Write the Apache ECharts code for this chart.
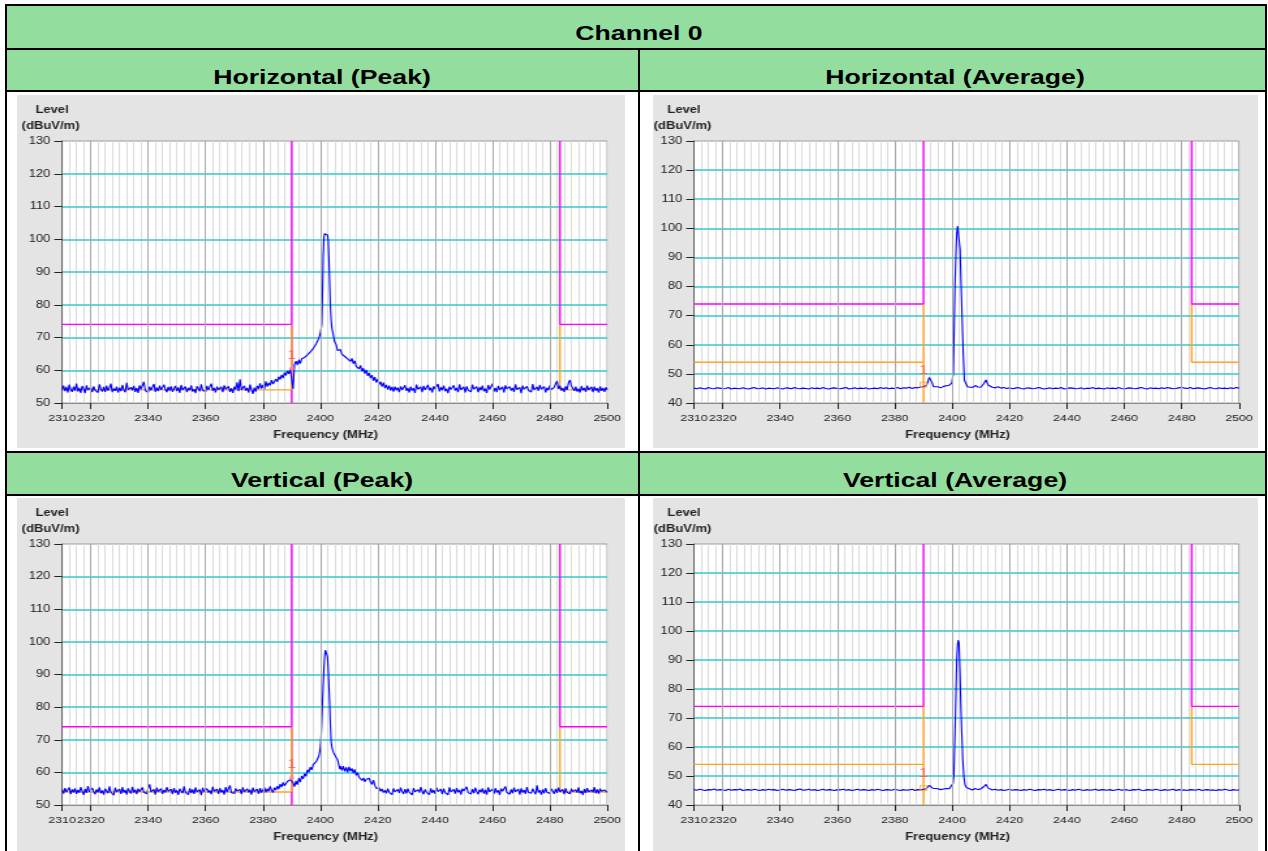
<!DOCTYPE html>
<html>
<head>
<meta charset="utf-8">
<script src="https://cdn.jsdelivr.net/npm/echarts@6/dist/echarts.min.js"></script>
<style>
  html, body { margin: 0; padding: 0; background: #fff; width: 1268px; height: 851px; overflow: hidden; }
  body { position: relative; font-family: 'Liberation Sans', Arial, sans-serif; }
  .g { position: absolute; background: #93dd9e; }
  .b { position: absolute; background: #000; }
  .t { position: absolute; font-weight: bold; font-size: 20.5px; line-height: 1; color: #000; white-space: nowrap;
       transform: translate(-50%, -50%) scaleX(1.3); }
  .chart { position: absolute; transform-origin: 0 0; }
</style>
</head>
<body>
<!-- table cells -->
<div class="g" style="left:7px;top:6px;width:1258px;height:42px"></div>
<div class="g" style="left:7px;top:50px;width:631px;height:40px"></div>
<div class="g" style="left:640px;top:50px;width:625px;height:40px"></div>
<div class="g" style="left:7px;top:453px;width:631px;height:41px"></div>
<div class="g" style="left:640px;top:453px;width:625px;height:41px"></div>
<!-- table rules -->
<div class="b" style="left:5px;top:4px;width:1262px;height:2px"></div>
<div class="b" style="left:5px;top:4px;width:2px;height:847px"></div>
<div class="b" style="left:1265px;top:4px;width:2px;height:847px"></div>
<div class="b" style="left:5px;top:48px;width:1262px;height:2px"></div>
<div class="b" style="left:5px;top:90px;width:1262px;height:2px"></div>
<div class="b" style="left:5px;top:451px;width:1262px;height:2px"></div>
<div class="b" style="left:5px;top:494px;width:1262px;height:2px"></div>
<div class="b" style="left:638px;top:50px;width:2px;height:801px"></div>
<!-- headings -->
<div class="t" style="left:639px;top:33px">Channel 0</div>
<div class="t" style="left:322px;top:77px">Horizontal (Peak)</div>
<div class="t" style="left:955px;top:77px">Horizontal (Average)</div>
<div class="t" style="left:322px;top:480px">Vertical (Peak)</div>
<div class="t" style="left:955px;top:480px">Vertical (Average)</div>

<script>
// ---- sweep data (dBuV/m): regular sweep steps plus a finer section around the carrier ----
const freqStart = 2310;
const peakSweepStep = 0.5;
const avgSweepStep = 1;
const freqMin = 2310, freqMax = 2500;
const xTickLabels = [2310, 2320, 2340, 2360, 2380, 2400, 2420, 2440, 2460, 2480, 2500];
const majorGridFreqs = [2320, 2340, 2360, 2380, 2400, 2420, 2440, 2460, 2480];

// limits
const peakLimit = 74;
const avgLimit = 54;
const bandEdgeLow = 2390;
const bandEdgeHigh = 2483.5;

// Horizontal, peak detector (0.5 MHz steps from 2310)
const hpLeft = [
  54.0, 55.3, 53.6, 54.9, 53.2, 55.6, 54.1, 53.4, 55.0, 53.8,
  55.9, 53.5, 54.6, 53.1, 55.2, 54.3, 53.0, 55.4, 54.0, 53.6,
  54.8, 53.3, 55.1, 53.9, 54.5, 53.2, 55.7, 54.2, 53.5, 54.9,
  53.4, 55.3, 53.8, 54.6, 55.9, 53.3, 54.4, 53.7, 55.0, 53.2,
  54.7, 53.6, 55.5, 54.0, 53.3, 56.2, 54.1, 53.5, 54.8, 53.9,
  55.2, 53.4, 54.6, 53.1, 55.4, 54.2, 53.7, 56.5, 53.8, 54.3,
  53.2, 55.0, 53.9, 54.5, 55.8, 53.4, 54.7, 53.6, 55.3, 54.0,
  53.5, 55.6, 54.1, 53.3, 54.9, 53.8, 55.1, 53.4, 54.4, 55.2,
  53.6, 54.8, 53.1, 55.5, 54.0, 53.7, 55.0, 53.3, 54.6, 53.9,
  55.4, 53.5, 54.2, 53.0, 55.1, 54.4, 53.6, 55.7, 53.9, 54.3,
  53.4, 55.2, 54.0, 53.5, 55.9, 53.8, 54.6, 53.2, 55.0, 54.1,
  53.6, 54.9, 53.3, 55.4, 54.2, 53.7, 55.1, 53.4, 54.5, 53.1,
  55.0, 54.1, 56.3, 53.6, 57.2, 54.0, 53.4, 55.3, 53.8, 54.6,
  53.2, 55.6, 54.0, 52.8, 54.7, 53.5, 55.2, 54.3, 56.0, 54.4,
  55.5, 54.2, 56.6, 55.0, 56.1, 55.4, 57.0, 55.8, 56.4, 57.3,
  56.5, 58.0, 57.2, 58.6, 57.6, 59.3, 58.4, 59.8, 58.9, 60.3
];
const hpPeak = [
  [2390, 60.6], [2390.5, 54.3], [2391, 61.8], [2391.5, 62.8], [2392, 61.6], [2392.5, 63.2],
  [2393, 62.0], [2393.5, 63.5], [2394, 63.0], [2394.5, 63.9], [2395, 63.6], [2395.5, 64.7],
  [2396, 64.4], [2396.5, 65.6], [2397, 65.5], [2397.5, 66.6], [2398, 66.8], [2398.5, 68.0],
  [2399, 68.5], [2399.5, 69.8], [2400, 71.3], [2400.25, 72.5], [2400.5, 74.0], [2400.75, 83.0],
  [2401, 95.0], [2401.25, 100.6], [2401.5, 101.7], [2401.75, 101.9], [2402, 101.6], [2402.25, 101.8],
  [2402.5, 101.3], [2402.75, 99.5], [2403, 94.0], [2403.25, 86.5], [2403.5, 79.5], [2403.75, 75.5],
  [2404, 73.0], [2404.5, 70.8], [2405, 68.6], [2405.5, 67.9], [2406, 66.0]
];
const hpRightStart = 2406.5;
const hpRight = [
  65.6, 66.3, 64.9, 65.4, 64.2, 64.8, 63.5, 64.1, 62.7, 63.6,
  62.0, 62.9, 61.2, 61.8, 60.4, 61.5, 59.7, 60.6, 59.0, 60.1,
  58.3, 59.2, 57.6, 58.5, 56.8, 57.9, 56.2, 57.3, 55.6, 56.5,
  55.0, 56.2, 54.6, 55.5, 54.1, 55.3, 53.8, 54.9, 53.5, 55.0,
  53.9, 54.7, 53.3, 55.1, 54.0, 53.5, 55.4, 53.7, 54.6, 53.2,
  55.0, 53.8, 54.5, 53.1, 55.6, 54.2, 53.6, 54.9, 53.3, 55.2,
  54.0, 53.4, 55.5, 53.9, 54.7, 53.2, 55.1, 54.3, 53.7, 55.8,
  53.5, 54.8, 53.9, 55.3, 53.6, 54.4, 53.0, 55.0, 54.1, 53.6,
  55.4, 53.8, 54.6, 53.3, 55.7, 54.0, 53.5, 54.9, 53.2, 55.1,
  53.9, 54.5, 53.4, 55.6, 54.2, 53.7, 55.0, 53.3, 54.8, 53.9,
  55.3, 53.6, 54.4, 53.1, 55.5, 54.1, 53.8, 55.9, 53.5, 54.6,
  53.3, 55.2, 54.0, 53.6, 54.9, 53.2, 55.4, 54.3, 53.7, 55.0,
  53.8, 54.6, 53.4, 55.7, 54.1, 53.5, 54.8, 53.0, 55.3, 54.2,
  53.6, 55.1, 53.9, 54.5, 53.3, 55.8, 54.0, 53.4, 54.9, 53.7,
  55.5, 54.2, 53.6, 55.0, 53.2, 54.7, 53.9, 55.4, 54.1, 53.5,
  54.8, 55.9, 56.7, 54.3, 55.2, 53.8, 54.6, 53.4, 55.1, 54.0,
  56.2, 57.0, 55.3, 54.5, 53.7, 55.0, 53.5, 54.4, 53.2, 55.2,
  53.9, 54.6, 53.4, 55.3, 54.0, 53.6, 54.9, 53.3, 55.0, 53.8,
  54.5, 53.2, 55.1, 53.7, 54.6, 53.4, 54.8, 54.0
];

// Horizontal, average detector (1 MHz steps from 2310)
const haLeft = [
  45.1, 44.9, 45.2, 45.0, 44.8, 45.3, 45.0, 44.9, 45.2, 45.1,
  44.9, 45.0, 45.3, 44.8, 45.1, 45.0, 44.9, 45.2, 45.0, 44.8,
  45.1, 45.3, 44.9, 45.0, 45.2, 44.8, 45.1, 45.0, 44.9, 45.2,
  45.0, 44.8, 45.2, 45.1, 44.9, 45.3, 45.0, 44.9, 45.1, 45.0,
  44.8, 45.2, 45.0, 45.1, 44.9, 45.3, 45.0, 44.8, 45.1, 45.2,
  45.0, 44.9, 45.1, 45.3, 44.8, 45.0, 45.2, 44.9, 45.1, 45.0,
  45.2, 44.8, 45.0, 45.1, 44.9, 45.3, 45.0, 45.2, 44.9, 45.1,
  45.0, 45.3, 44.9, 45.2, 45.1, 45.4, 45.0, 45.3, 45.2, 45.5,
  45.6, 46.0
];
const haPeak = [
  [2391.5, 47.2], [2392, 48.8], [2392.5, 49.3], [2393, 47.0], [2393.5, 45.6], [2394, 45.3],
  [2395, 45.6], [2396, 45.2], [2397, 45.7], [2398, 45.9], [2399, 46.1], [2399.85, 46.8],
  [2400.4, 50.2], [2400.7, 66.0], [2401.0, 81.1], [2401.3, 91.0], [2401.6, 98.3], [2401.9, 100.8],
  [2402.15, 100.9], [2402.4, 100.6], [2402.75, 92.6], [2403.1, 81.1], [2403.45, 69.6], [2403.9, 55.9],
  [2404.25, 47.9], [2404.8, 47.3], [2405.3, 45.6], [2406, 45.9], [2407, 45.3], [2408, 46.0],
  [2409, 45.5], [2410, 45.4], [2411, 46.6], [2411.8, 47.9], [2412.5, 46.2], [2413, 45.6]
];
const haRightStart = 2414;
const haRight = [
  45.4, 45.2, 45.6, 45.1, 45.3, 45.0, 45.2, 44.9, 45.1, 45.3,
  45.0, 44.8, 45.2, 45.1, 44.9, 45.0, 45.3, 45.1, 44.8, 45.0,
  45.2, 44.9, 45.1, 45.0, 45.3, 44.8, 45.0, 45.2, 45.1, 44.9,
  45.0, 45.2, 44.8, 45.1, 45.0, 45.3, 44.9, 45.1, 45.0, 44.8,
  45.2, 45.0, 45.1, 44.9, 45.3, 45.0, 44.8, 45.1, 45.2, 45.0,
  44.9, 45.1, 45.3, 45.0, 44.8, 45.2, 45.0, 45.1, 44.9, 45.2,
  45.0, 45.3, 45.1, 44.9, 45.0, 45.2, 45.4, 45.1, 45.0, 45.3,
  44.9, 45.1, 45.2, 45.0, 44.8, 45.1, 45.3, 45.0, 44.9, 45.2,
  45.0, 45.1, 44.9, 45.2, 45.0, 45.3, 45.1
];

// Vertical, peak detector (0.5 MHz steps from 2310)
const vpLeft = [
  54.7, 53.5, 55.2, 54.0, 53.6, 55.4, 53.3, 54.8, 53.9, 55.1,
  53.4, 54.6, 53.8, 55.5, 54.2, 53.1, 54.9, 53.7, 55.8, 54.0,
  53.5, 55.2, 54.1, 53.3, 54.8, 53.9, 55.4, 53.6, 54.5, 53.2,
  55.0, 54.3, 53.6, 55.7, 53.9, 54.4, 53.0, 55.3, 54.0, 53.7,
  54.9, 53.4, 55.5, 53.8, 54.6, 53.2, 55.1, 54.2, 53.5, 55.6,
  53.8, 54.7, 53.3, 55.0, 54.1, 53.6, 55.4, 53.9, 54.3, 53.4,
  55.2, 56.3, 54.0, 53.5, 54.8, 53.2, 55.3, 54.1, 53.7, 55.0,
  53.4, 54.6, 53.9, 55.5, 54.2, 53.6, 54.9, 53.3, 55.2, 53.8,
  54.5, 53.1, 55.0, 54.3, 53.6, 55.7, 53.9, 54.4, 53.2, 55.1,
  53.7, 54.8, 53.4, 55.4, 54.0, 53.5, 54.7, 53.0, 55.3, 54.1,
  53.6, 55.0, 53.8, 54.5, 53.3, 55.6, 54.2, 53.7, 54.9, 53.4,
  55.2, 53.9, 54.6, 53.2, 55.5, 54.0, 53.6, 56.0, 53.8, 54.4,
  53.5, 55.1, 54.3, 53.7, 54.8, 53.3, 55.4, 54.0, 53.6, 55.0,
  53.9, 54.7, 53.2, 55.3, 54.1, 53.6, 54.9, 53.4, 55.2, 53.8,
  54.6, 55.4, 53.9, 55.0, 54.2, 55.7, 54.5, 53.8, 55.3, 54.6,
  55.8, 54.9, 56.4, 55.5, 56.9, 55.9, 56.3, 57.2, 56.6, 57.8
];
const vpPeak = [
  [2390, 58.3], [2390.5, 56.8], [2391, 55.6], [2391.5, 57.4], [2392, 56.2], [2392.5, 58.2],
  [2393, 57.0], [2393.5, 58.9], [2394, 58.0], [2394.5, 59.6], [2395, 58.8], [2395.5, 60.8],
  [2396, 60.0], [2396.5, 61.6], [2397, 60.8], [2397.5, 62.4], [2398, 62.3], [2398.5, 63.2],
  [2399, 63.8], [2399.5, 65.0], [2400, 67.5], [2400.25, 70.5], [2400.5, 75.5], [2400.75, 81.5],
  [2401, 87.0], [2401.25, 92.0], [2401.5, 95.5], [2401.75, 97.5], [2402, 98.1], [2402.25, 97.9],
  [2402.5, 95.5], [2402.75, 91.5], [2403, 86.3], [2403.25, 81.0], [2403.5, 74.5], [2403.75, 69.5],
  [2404, 67.8], [2404.5, 66.2], [2405, 65.4], [2405.5, 64.6], [2406, 63.9], [2406.5, 64.2],
  [2406.8, 61.0], [2407, 61.9]
];
const vpRightStart = 2407.5;
const vpRight = [
  60.6, 61.9, 60.3, 61.5, 60.0, 61.7, 60.4, 61.2, 59.8, 60.9,
  59.1, 59.9, 58.5, 58.9, 57.5, 58.3, 57.1, 57.9, 57.4, 58.2,
  57.0, 56.3, 57.6, 56.0, 55.1, 54.6, 55.3, 54.2, 54.9, 53.8,
  54.5, 53.6, 55.0, 53.9, 54.3, 53.2, 55.1, 54.0, 53.5, 54.8,
  53.7, 55.3, 54.1, 53.4, 54.9, 53.6, 55.0, 53.9, 54.4, 53.1,
  55.2, 54.0, 53.5, 54.7, 53.8, 55.5, 54.2, 53.3, 54.8, 53.9,
  54.5, 53.2, 55.1, 53.7, 54.6, 53.4, 55.3, 54.1, 53.6, 54.9,
  53.3, 55.0, 53.8, 54.4, 53.1, 55.4, 54.0, 53.6, 54.8, 53.5,
  55.2, 53.9, 54.6, 53.2, 55.0, 54.3, 53.7, 55.6, 53.8, 54.4,
  53.4, 54.9, 53.6, 55.3, 54.1, 53.3, 54.7, 53.9, 55.1, 53.5,
  54.6, 53.2, 55.4, 54.0, 53.7, 54.9, 53.4, 55.2, 53.8, 54.5,
  53.1, 55.0, 54.2, 53.6, 55.7, 53.9, 54.4, 53.3, 54.8, 53.6,
  55.3, 54.0, 53.5, 54.9, 53.2, 55.1, 53.8, 54.6, 53.4, 55.5,
  53.9, 54.3, 53.6, 55.0, 54.1, 53.3, 56.0, 53.8, 54.5, 53.2,
  54.8, 53.6, 55.2, 53.9, 54.4, 53.5, 55.0, 54.2, 53.4, 54.9,
  53.7, 55.3, 54.0, 53.6, 54.8, 53.3, 55.1, 53.9, 54.5, 53.4,
  55.0, 54.1, 53.5, 54.7, 53.8, 55.4, 53.6, 54.3, 53.1, 54.9,
  53.7, 55.2, 54.0, 53.4, 54.6, 53.9, 55.5, 53.6, 54.8, 53.5,
  55.0, 54.2, 53.8, 54.6, 54.3, 53.9
];

// Vertical, average detector (1 MHz steps from 2310)
const vaLeft = [
  45.3, 45.1, 45.4, 45.2, 45.0, 45.3, 45.2, 45.5, 45.1, 45.3,
  45.2, 45.0, 45.4, 45.1, 45.3, 45.2, 45.5, 45.0, 45.2, 45.3,
  45.1, 45.4, 45.2, 45.0, 45.3, 45.1, 45.4, 45.2, 45.3, 45.0,
  45.2, 45.4, 45.1, 45.3, 45.2, 45.0, 45.3, 45.5, 45.1, 45.2,
  45.4, 45.1, 45.3, 45.0, 45.2, 45.4, 45.1, 45.3, 45.2, 45.0,
  45.3, 45.2, 45.4, 45.1, 45.3, 45.0, 45.2, 45.4, 45.1, 45.3,
  45.2, 45.0, 45.3, 45.1, 45.4, 45.2, 45.0, 45.3, 45.2, 45.1,
  45.4, 45.2, 45.0, 45.3, 45.1, 45.2, 45.4, 45.0, 45.3, 45.2,
  45.4, 45.6
];
const vaPeak = [
  [2391.5, 46.0], [2392, 46.8], [2392.6, 47.1], [2393.2, 45.8], [2394, 45.4], [2395, 45.6],
  [2396, 45.3], [2397, 45.5], [2398, 45.7], [2399, 45.6], [2399.9, 46.0], [2400.3, 47.5],
  [2400.6, 50.5], [2400.85, 60.0], [2401.1, 69.3], [2401.35, 80.0], [2401.6, 90.0], [2401.9, 95.5],
  [2402.15, 96.9], [2402.4, 95.8], [2402.7, 86.0], [2403.0, 75.0], [2403.35, 64.5], [2403.7, 55.5],
  [2404.1, 49.5], [2404.5, 46.9], [2405.0, 46.0], [2406, 45.6], [2407, 45.2], [2408, 45.7],
  [2409, 45.3], [2410, 45.6], [2411, 46.3], [2411.8, 47.1], [2412.5, 45.9], [2413, 45.4]
];
const vaRightStart = 2414;
const vaRight = [
  45.2, 45.4, 45.1, 45.3, 45.0, 45.2, 45.4, 45.1, 45.3, 45.2,
  45.0, 45.3, 45.1, 45.4, 45.2, 45.0, 45.3, 45.2, 45.4, 45.1,
  45.3, 45.0, 45.2, 45.4, 45.1, 45.3, 45.2, 45.0, 45.3, 45.1,
  45.4, 45.2, 45.0, 45.3, 45.1, 45.2, 45.4, 45.0, 45.3, 45.2,
  45.1, 45.3, 45.0, 45.2, 45.4, 45.1, 45.3, 45.2, 45.0, 45.3,
  45.2, 45.4, 45.1, 45.0, 45.3, 45.2, 45.1, 45.4, 45.2, 45.0,
  45.3, 45.1, 45.2, 45.4, 45.0, 45.3, 45.1, 45.2, 45.0, 45.3,
  45.2, 45.1, 45.4, 45.0, 45.2, 45.3, 45.1, 45.2, 45.0, 45.3,
  45.1, 45.4, 45.2, 45.0, 45.3, 45.1, 45.2
];

// marker "1" at the lower band edge
const hpMarker = [2390, 60.5];
const haMarker = [2390, 46.3];
const vpMarker = [2390, 58.3];
const vaMarker = [2390, 45.8];

// ---- drawing ----
const SX = 1.3;               // horizontal stretch of the chart canvases
const FONT = "'Liberation Sans', Arial, sans-serif";
const C_MAGENTA = '#ff00ff';
const C_ORANGE = '#ffa424';
const C_TRACE = '#0000ff';
const C_CYAN = '#33c9c9';

function buildTrace(left, step, peak, right, rightStart) {
  const pts = [];
  left.forEach((v, i) => pts.push([freqStart + i * step, v]));
  peak.forEach(p => pts.push([p[0], p[1]]));
  right.forEach((v, i) => pts.push([rightStart + i * step, v]));
  return pts;
}

const panels = [
  { box: [17, 95, 608, 353], plot: [62, 141, 544, 262], yMin: 50, kind: 'peak',
    trace: buildTrace(hpLeft, peakSweepStep, hpPeak, hpRight, hpRightStart), marker: hpMarker },
  { box: [653, 95, 605, 353], plot: [694, 141, 545, 262], yMin: 40, kind: 'avg',
    trace: buildTrace(haLeft, avgSweepStep, haPeak, haRight, haRightStart), marker: haMarker },
  { box: [17, 498, 608, 353], plot: [62, 544, 544, 261], yMin: 50, kind: 'peak',
    trace: buildTrace(vpLeft, peakSweepStep, vpPeak, vpRight, vpRightStart), marker: vpMarker },
  { box: [653, 498, 605, 353], plot: [694, 544, 545, 261], yMin: 40, kind: 'avg',
    trace: buildTrace(vaLeft, avgSweepStep, vaPeak, vaRight, vaRightStart), marker: vaMarker }
];

function limitSeries(data, color, z) {
  return {
    type: 'line', data: data, showSymbol: false, symbol: 'none', silent: true,
    lineStyle: { color: color, width: 1.4 }, z: z, animation: false
  };
}

panels.forEach(p => {
  const [bx, by, bw, bh] = p.box;
  const [px, py, pw, ph] = p.plot;
  const el = document.createElement('div');
  el.className = 'chart';
  const iw = bw / SX;
  el.style.left = bx + 'px';
  el.style.top = by + 'px';
  el.style.width = iw + 'px';
  el.style.height = bh + 'px';
  el.style.transform = 'scaleX(' + SX + ')';
  document.body.appendChild(el);

  const chart = echarts.init(el, null, { renderer: 'canvas', width: iw, height: bh });
  const gl = (px - bx) / SX, gt = py - by, gw = pw / SX, gh = ph;
  const yMin = p.yMin;

  const series = [];
  // darker major grid lines every 20 MHz
  series.push({
    type: 'line', data: [[freqMin, yMin]], showSymbol: false, symbol: 'none', silent: true,
    lineStyle: { opacity: 0 }, z: 1,
    markLine: {
      silent: true, symbol: 'none', label: { show: false }, animation: false,
      lineStyle: { color: '#a9a9a9', width: 1, type: 'solid' },
      data: majorGridFreqs.map(f => ({ xAxis: f }))
    }
  });
  // limit lines
  series.push(limitSeries([[freqMin, avgLimit], [bandEdgeLow, avgLimit]], C_ORANGE, 3));
  series.push(limitSeries([[bandEdgeHigh, peakLimit], [bandEdgeHigh, avgLimit], [freqMax, avgLimit]], C_ORANGE, 3));
  if (p.kind === 'peak') {
    series.push(limitSeries([[bandEdgeLow, yMin], [bandEdgeLow, 130]], C_MAGENTA, 3));
    series.push(limitSeries([[bandEdgeLow, avgLimit], [bandEdgeLow, peakLimit]], C_ORANGE, 3));
  } else {
    series.push(limitSeries([[bandEdgeLow, yMin], [bandEdgeLow, peakLimit]], C_ORANGE, 3));
    series.push(limitSeries([[bandEdgeLow, peakLimit], [bandEdgeLow, 130]], C_MAGENTA, 3));
  }
  series.push(limitSeries([[freqMin, peakLimit], [bandEdgeLow, peakLimit]], C_MAGENTA, 3));
  series.push(limitSeries([[bandEdgeHigh, 130], [bandEdgeHigh, peakLimit], [freqMax, peakLimit]], C_MAGENTA, 3));
  // measured trace
  series.push({
    type: 'line', data: p.trace, showSymbol: false, symbol: 'none', silent: true,
    lineStyle: { color: C_TRACE, width: 1.1 }, z: 4
  });
  // marker
  series.push({
    type: 'scatter', data: [p.marker], silent: true, z: 5,
    symbol: p.kind === 'peak' ? 'circle' : 'rect',
    symbolSize: p.kind === 'peak' ? 4 : 5,
    itemStyle: p.kind === 'peak'
      ? { color: '#ff7aa8' }
      : { color: 'rgba(255,255,255,0)', borderColor: C_ORANGE, borderWidth: 1 },
    label: { show: true, position: 'top', distance: 5, formatter: '1', color: '#ff5050',
             fontSize: 12, fontFamily: FONT }
  });

  chart.setOption({
    animation: false,
    backgroundColor: '#e4e4e4',
    textStyle: { fontFamily: FONT },
    grid: { left: gl, top: gt, width: gw, height: gh, show: true, backgroundColor: '#ffffff',
            borderColor: '#9a9a9a', borderWidth: 1 },
    xAxis: [
      {
        type: 'value', min: freqMin, max: freqMax, interval: 10, z: 2,
        axisLine: { show: true, onZero: false, lineStyle: { color: '#8c8c8c', width: 1 } },
        axisTick: { show: true, customValues: xTickLabels, length: 6, lineStyle: { color: '#222' } },
        axisLabel: { customValues: xTickLabels, fontSize: 9.5, color: '#222', margin: 10, fontFamily: FONT,
                     showMinLabel: true, showMaxLabel: true, hideOverlap: false,
                     formatter: v => String(v) },
        splitLine: { show: false }
      },
      {
        type: 'value', min: freqMin, max: freqMax, interval: 2.5, z: 0,
        axisLine: { show: false }, axisTick: { show: false }, axisLabel: { show: false },
        splitLine: { show: true, lineStyle: { color: '#dcdcdc', width: 1 } }
      }
    ],
    yAxis: {
      type: 'value', min: yMin, max: 130, interval: 10, z: 2,
      axisLine: { show: true, lineStyle: { color: '#666', width: 1 } },
      axisTick: { show: true, length: 6, lineStyle: { color: '#222' } },
      axisLabel: { fontSize: 10, color: '#222', margin: 9, fontFamily: FONT, formatter: v => String(v) },
      splitLine: { show: true, showMinLine: false, showMaxLine: false,
                   lineStyle: { color: C_CYAN, width: 1.5 } }
    },
    graphic: [
      { type: 'text', x: gl - 10 / SX, y: gt - 31, z: 10,
        style: { text: 'Level', fill: '#222', font: 'bold 10px ' + FONT, align: 'center', verticalAlign: 'middle' } },
      { type: 'text', x: gl - 11.5 / SX, y: gt - 15, z: 10,
        style: { text: '(dBuV/m)', fill: '#222', font: 'bold 10px ' + FONT, align: 'center', verticalAlign: 'middle' } },
      { type: 'text', x: gl + gw / 2 - 9 / SX, y: gt + gh + 32, z: 10,
        style: { text: 'Frequency (MHz)', fill: '#222', font: 'bold 10px ' + FONT, align: 'center', verticalAlign: 'middle' } }
    ],
    series: series
  });
});
</script>
</body>
</html>
